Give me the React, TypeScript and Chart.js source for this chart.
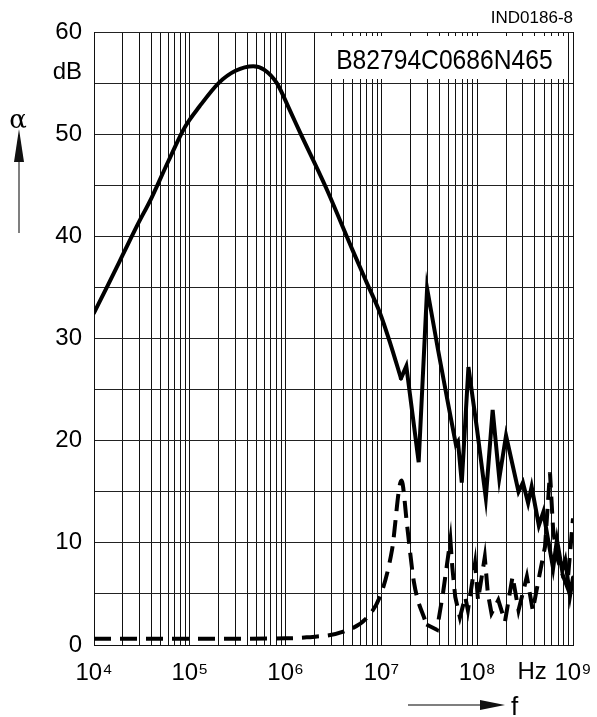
import React, { useEffect, useRef } from 'react';
import { Chart, registerables } from 'chart.js';

Chart.register(...registerables);

// ---- Data (frequency in Hz, attenuation in dB) ----
const solidFreq = [
  1.0e4, 1.41e4, 2.0e4, 2.8e4, 4.0e4, 6.0e4, 8.9e4, 1.26e5, 2.0e5, 3.0e5, 4.6e5, 6.0e5, 8.1e5,
  1.1e6, 1.41e6, 2.63e6, 5.0e6, 7.08e6, 9.66e6, 1.23e7, 1.6e7, 1.82e7, 2.45e7, 3.0e7, 3.9e7,
  4.95e7, 6.0e7, 6.3e7, 6.9e7, 8.1e7, 9.9e7, 1.23e8, 1.45e8, 1.7e8, 2.0e8, 2.7e8, 3.0e8, 3.4e8,
  3.7e8, 4.4e8, 4.9e8, 5.5e8, 6.2e8, 6.8e8, 7.7e8, 8.3e8, 9.3e8, 1.0e9,
];
const solidDb = [
  32.5, 35.3, 38.2, 41.0, 43.8, 47.4, 50.7, 52.7, 55.0, 56.2, 56.65, 56.3, 55.0,
  52.4, 50.2, 44.8, 38.65, 35.4, 32.5, 29.6, 26.1, 27.3, 17.9, 34.9, 28.9,
  23.7, 19.6, 19.9, 15.9, 27.2, 21.3, 14.4, 23.0, 16.3, 20.5, 15.0, 15.9, 13.9,
  15.5, 11.7, 13.0, 10.3, 7.5, 10.3, 7.3, 8.3, 4.8, 6.6,
];
const dashedFreq = [
  1.0e4, 1.0e5, 1.0e6, 1.66e6, 4.0e6, 7.1e6, 1.0e7, 1.29e7, 1.62e7, 1.86e7, 2.19e7, 2.95e7,
  3.8e7, 4.4e7, 5.25e7, 5.5e7, 5.9e7, 6.6e7, 7.5e7, 8.0e7, 9.5e7, 1.02e8, 1.2e8, 1.29e8,
  1.41e8, 1.66e8, 1.95e8, 2.34e8, 2.7e8, 3.3e8, 3.8e8, 4.5e8, 5.1e8, 5.75e8, 6.2e8, 6.8e8,
  7.7e8, 8.7e8, 1.0e9,
];
const dashedDb = [
  0.6, 0.6, 0.65, 0.75, 1.3, 2.7, 5.1, 9.3, 16.1, 11.6, 6.1, 2.0,
  1.5, 5.1, 10.3, 7.6, 4.7, 2.7, 4.7, 3.4, 8.0, 4.4, 8.6, 5.1,
  3.1, 4.4, 2.3, 6.7, 3.4, 6.7, 3.4, 7.0, 9.6, 16.9, 11.3, 8.6,
  7.0, 5.7, 12.4,
];
// where the smooth (low-frequency) part of each curve ends and the jagged part starts
const solidSmoothUntil = 1.6e7;
const dashedSmoothUntil = 2.95e7;

const xDecadeLabels = ['10⁴', '10⁵', '10⁶', '10⁷', '10⁸', '10⁹'];
const xMin = 1e4;
const xMax = 1e9;
const yMin = 0;
const yMax = 60;
const yStep = 5;
const yUnitLabel = 'dB';
const yUnitAt = 55;
const xUnitLabel = 'Hz';
const xUnitAt = 3.75e8;
const partNumber = 'B82794C0686N465';
const figureId = 'IND0186-8';
const yQuantity = 'α';
const xQuantity = 'f';

const SANS = "'Liberation Sans', Arial, Helvetica, sans-serif";

const decorPlugin = {
  id: 'decor',
  beforeDatasetsDraw(chart: any) {
    const { ctx, chartArea } = chart;
    const xs = chart.scales.x;
    const bx0 = xs.getPixelForValue(2.4e6);
    const bx1 = xs.getPixelForValue(8.6e8);
    ctx.save();
    ctx.fillStyle = '#fff';
    ctx.fillRect(bx0, chartArea.top + 4, bx1 - bx0, 43);
    ctx.fillStyle = '#000';
    ctx.font = `28px ${SANS}`;
    ctx.textAlign = 'center';
    ctx.textBaseline = 'alphabetic';
    const cx = (bx0 + bx1) / 2;
    ctx.translate(cx, chartArea.top + 37);
    ctx.scale(0.88, 1);
    ctx.fillText(partNumber, 0, 0);
    ctx.restore();
  },
  afterDraw(chart: any) {
    const { ctx, chartArea } = chart;
    const xs = chart.scales.x;
    const ys = chart.scales.y;
    ctx.save();
    ctx.fillStyle = '#000';
    ctx.font = `17px ${SANS}`;
    ctx.textAlign = 'right';
    ctx.textBaseline = 'alphabetic';
    ctx.fillText(figureId, chartArea.right, 23);
    ctx.font = `24px ${SANS}`;
    ctx.textAlign = 'right';
    ctx.textBaseline = 'middle';
    ctx.fillText(yUnitLabel, chartArea.left - 12, ys.getPixelForValue(yUnitAt) - 11);
    ctx.textAlign = 'center';
    ctx.textBaseline = 'alphabetic';
    ctx.fillText(xUnitLabel, xs.getPixelForValue(xUnitAt), 679);
    ctx.font = `26px 'DejaVu Serif', 'Liberation Serif', serif`;
    ctx.textAlign = 'center';
    ctx.textBaseline = 'alphabetic';
    ctx.fillText(yQuantity, 18, 128);
    ctx.strokeStyle = '#555';
    ctx.lineWidth = 1.5;
    ctx.beginPath();
    ctx.moveTo(19, 160);
    ctx.lineTo(19, 233);
    ctx.stroke();
    ctx.fillStyle = '#111';
    ctx.beginPath();
    ctx.moveTo(19, 129);
    ctx.lineTo(24, 162);
    ctx.lineTo(14, 162);
    ctx.closePath();
    ctx.fill();
    ctx.beginPath();
    ctx.moveTo(408, 705);
    ctx.lineTo(484, 705);
    ctx.stroke();
    ctx.beginPath();
    ctx.moveTo(505, 705);
    ctx.lineTo(480, 700);
    ctx.lineTo(480, 710);
    ctx.closePath();
    ctx.fill();
    ctx.fillStyle = '#000';
    ctx.font = `26px ${SANS}`;
    ctx.textAlign = 'left';
    ctx.fillText(xQuantity, 511, 715);
    ctx.restore();
  },
};

function pts(freq: number[], db: number[], from: number, to: number) {
  const out: { x: number; y: number }[] = [];
  freq.forEach((f, i) => {
    if (f >= from && f <= to) out.push({ x: f, y: db[i] });
  });
  return out;
}

export default function App() {
  const ref = useRef<HTMLCanvasElement | null>(null);
  useEffect(() => {
    if (!ref.current) return;
    const base = { borderColor: '#000', borderWidth: 4, pointRadius: 0, fill: false };
    const chart = new Chart(ref.current, {
      type: 'line',
      data: {
        datasets: [
          {
            ...base,
            data: pts(solidFreq, solidDb, xMin, solidSmoothUntil),
            cubicInterpolationMode: 'monotone',
            borderCapStyle: 'round',
          },
          {
            ...base,
            data: pts(solidFreq, solidDb, solidSmoothUntil, xMax),
            tension: 0,
            borderJoinStyle: 'miter',
            borderCapStyle: 'round',
          },
          {
            ...base,
            data: pts(dashedFreq, dashedDb, xMin, dashedSmoothUntil),
            cubicInterpolationMode: 'monotone',
            borderDash: [17, 9],
            borderCapStyle: 'butt',
          },
          {
            ...base,
            data: pts(dashedFreq, dashedDb, dashedSmoothUntil, xMax),
            tension: 0,
            borderDash: [17, 9],
            borderDashOffset: 4,
            borderCapStyle: 'butt',
            borderJoinStyle: 'miter',
          },
        ],
      },
      options: {
        animation: false,
        responsive: true,
        maintainAspectRatio: false,
        layout: { padding: { top: 32, right: 24, left: 0, bottom: 0 } },
        plugins: { legend: { display: false }, tooltip: { enabled: false }, title: { display: false } },
        scales: {
          x: {
            type: 'logarithmic',
            min: xMin,
            max: xMax,
            afterBuildTicks: (scale: any) => {
              const t: any[] = [];
              for (let e = 4; e <= 9; e++) {
                for (let m = 1; m <= 9; m++) {
                  const v = m * Math.pow(10, e);
                  if (v <= xMax) t.push({ value: v });
                }
              }
              scale.ticks = t;
            },
            afterFit: (scale: any) => {
              scale.height = 72;
              scale.paddingLeft = 0;
              scale.paddingRight = 0;
            },
            ticks: {
              autoSkip: false,
              maxRotation: 0,
              minRotation: 0,
              padding: 14,
              color: '#000',
              font: { family: SANS, size: 24 },
              callback: (val: any) => {
                const v = Number(val);
                const e = Math.round(Math.log10(v));
                if (Math.abs(v - Math.pow(10, e)) < 1e-6 * v) return xDecadeLabels[e - 4];
                return '';
              },
            },
            grid: { color: '#111', lineWidth: 1, drawTicks: false },
            border: { color: '#111', width: 1 },
          },
          y: {
            min: yMin,
            max: yMax,
            afterFit: (scale: any) => {
              scale.width = 94;
              scale.paddingTop = 0;
              scale.paddingBottom = 0;
            },
            ticks: {
              stepSize: yStep,
              padding: 12,
              color: '#000',
              font: { family: SANS, size: 24 },
              callback: (val: any) => (Number(val) % 10 === 0 ? String(val) : ''),
            },
            grid: { color: '#222', lineWidth: 1, drawTicks: false },
            border: { color: '#111', width: 1 },
          },
        },
      },
      plugins: [decorPlugin],
    });
    return () => chart.destroy();
  }, []);
  return (
    <div style={{ position: 'absolute', left: 0, top: 0, width: 597, height: 717, background: '#fff' }}>
      <canvas ref={ref} />
    </div>
  );
}
